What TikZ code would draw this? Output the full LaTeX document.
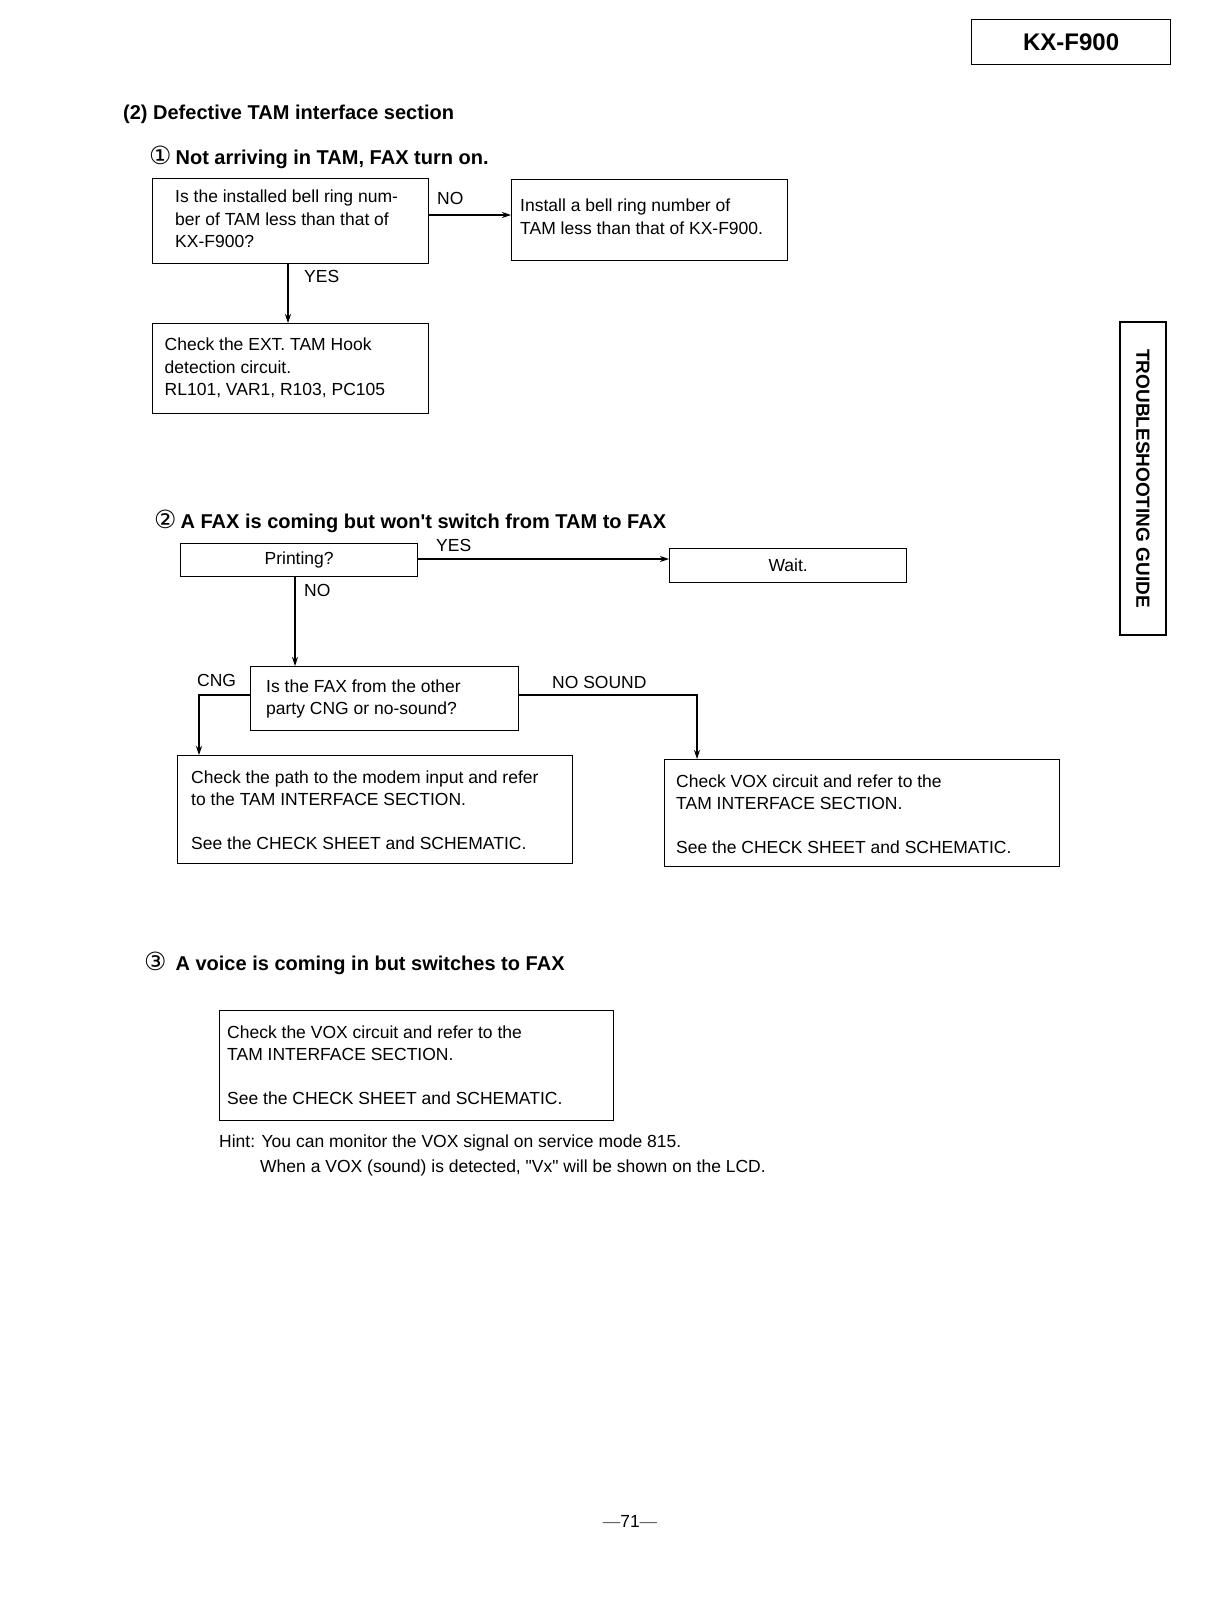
\documentclass[tikz,border=0pt]{standalone}
\usepackage{fontspec}
\setmainfont{Liberation Sans}
\newfontfamily\djv{DejaVu Sans}
\usetikzlibrary{arrows.meta}
\newcommand\circnum[1]{{\djv\mdseries\fontsize{25}{25}\selectfont #1}}
\begin{document}
\begin{tikzpicture}[x=1pt,y=-1pt,
  box/.style={draw, line width=1.3pt, anchor=north west, inner sep=0pt},
  txt/.style={anchor=west, align=left, inner sep=0pt, font=\fontsize{17.5}{22.5}\selectfont},
  lbl/.style={anchor=west, inner sep=0pt, font=\fontsize{17.5}{21}\selectfont},
  head/.style={anchor=west, inner sep=0pt, font=\bfseries\fontsize{20}{24}\selectfont},
  arr/.style={line width=1.2pt, -{Stealth[length=9pt,width=6pt]}}]
\useasboundingbox[fill=white] (0,0) rectangle (1216,1612);

% header
\node[box, minimum width=199pt, minimum height=45.5pt, font=\bfseries\fontsize{24}{28}\selectfont] (kx) at (971,18.5) {KX-F900};
\node[draw, line width=1.3pt, rotate=-90, minimum width=313pt, minimum height=46pt, inner sep=0pt, font=\bfseries\fontsize{19}{23}\selectfont] (tab) at (1143,478.5) {TROUBLESHOOTING GUIDE};

\node[head] (h0) at (123,114) {(2) Defective TAM interface section};

% section 1
\node[head] (h1) at (149,157) {\circnum{①}\hspace{4pt}Not arriving in TAM, FAX turn on.};
\node[box, minimum width=276pt, minimum height=85pt] (b1) at (152,178) {};
\node[txt] (b1t) at (175,219) {Is the installed bell ring num-\\ber of TAM less than that of\\KX-F900?};
\node[box, minimum width=276pt, minimum height=81pt] (b2) at (511,179) {};
\node[txt] (b2t) at (520,216.5) {Install a bell ring number of\\TAM less than that of KX-F900.};
\node[box, minimum width=276pt, minimum height=90pt] (b3) at (152,323) {};
\node[txt] (b3t) at (164.5,368) {Check the EXT. TAM Hook\\detection circuit.\\RL101, VAR1, R103, PC105};
\node[lbl] (lno1) at (437,198) {NO};
\node[lbl] (lyes1) at (304,276) {YES};
\coordinate (y1) at (0,215);
\coordinate (x1) at (288,0);
\draw[arr] (b1.east |- y1) -- (b2.west |- y1);
\draw[arr] (b1.south -| x1) -- (b3.north -| x1);

% section 2
\node[head] (h2) at (154,521) {\circnum{②}\hspace{4pt}A FAX is coming but won\textquotesingle t switch from TAM to FAX};
\node[box, minimum width=237pt, minimum height=33pt, font=\fontsize{17.5}{21}\selectfont] (pr) at (180,543) {Printing?};
\node[box, minimum width=237pt, minimum height=34pt, font=\fontsize{17.5}{21}\selectfont] (wt) at (669,548) {Wait.};
\node[box, minimum width=268pt, minimum height=64pt] (mb) at (250,666) {};
\node[txt] (mbt) at (266,699) {Is the FAX from the other\\party CNG or no-sound?};
\node[box, minimum width=395pt, minimum height=108pt] (bl) at (177,755) {};
\node[txt] (blt) at (191,810) {Check the path to the modem input and refer\\to the TAM INTERFACE SECTION.\\[21pt]See the CHECK SHEET and SCHEMATIC.};
\node[box, minimum width=395pt, minimum height=107pt] (br) at (664,759) {};
\node[txt] (brt) at (676,814) {Check VOX circuit and refer to the\\TAM INTERFACE SECTION.\\[21pt]See the CHECK SHEET and SCHEMATIC.};
\node[lbl] (lyes2) at (436,545) {YES};
\node[lbl] (lno2) at (304,590) {NO};
\node[lbl] (lcng) at (197,680) {CNG};
\node[lbl] (lns) at (552,682) {NO SOUND};
\coordinate (y2) at (0,559);
\coordinate (x2) at (295,0);
\coordinate (y3) at (0,695);
\coordinate (x3) at (199,0);
\coordinate (x4) at (697,0);
\draw[arr] (pr.east |- y2) -- (wt.west |- y2);
\draw[arr] (pr.south -| x2) -- (mb.north -| x2);
\draw[arr] (mb.west |- y3) -| (bl.north -| x3);
\draw[arr] (mb.east |- y3) -| (br.north -| x4);

% section 3
\node[head] (h3) at (144,963) {\circnum{③}\hspace{9pt}A voice is coming in but switches to FAX};
\node[box, minimum width=394pt, minimum height=110pt] (s3) at (219,1010) {};
\node[txt] (s3t) at (227,1065) {Check the VOX circuit and refer to the\\TAM INTERFACE SECTION.\\[21pt]See the CHECK SHEET and SCHEMATIC.};
\node[anchor=north west, align=left, inner sep=0pt, font=\fontsize{17.5}{25}\selectfont] (hint) at (219,1135) {Hint: You can monitor the VOX signal on service mode 815.\\\hspace*{41pt}When a VOX (sound) is detected, \textquotedbl Vx\textquotedbl\ will be shown on the LCD.};

% page number
\node[inner sep=0pt, font=\fontsize{17.5}{21}\selectfont] (pg) at (630,1521) {{\color{black!60}---}71{\color{black!60}---}};
\end{tikzpicture}
\end{document}
